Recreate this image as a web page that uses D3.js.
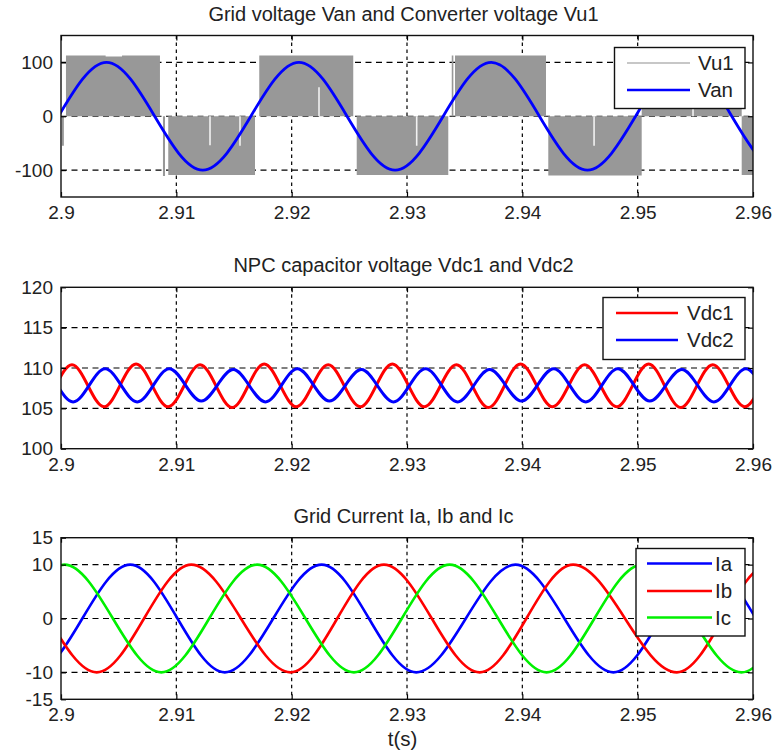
<!DOCTYPE html>
<html><head><meta charset="utf-8">
<script src="https://cdn.jsdelivr.net/npm/d3@7"></script>
<style>
body{margin:0;background:#fff;}
svg{display:block;font-family:"Liberation Sans",Arial,sans-serif;}
</style></head><body>
<svg id="chart" width="778" height="753"></svg>
<script>
// ---------------- DATA ----------------
const xTicks = [2.9, 2.91, 2.92, 2.93, 2.94, 2.95, 2.96];
const xTickLabels = ["2.9", "2.91", "2.92", "2.93", "2.94", "2.95", "2.96"];
const titles = ["Grid voltage Van and Converter voltage Vu1", "NPC capacitor voltage Vdc1 and Vdc2", "Grid Current Ia, Ib and Ic"];
const xLabel = "t(s)";

// Panel 1: grid voltage Van (extrema, incl. one just outside each end)
const vanT = [2.88727, 2.89561, 2.90395, 2.91229, 2.92063, 2.92897, 2.93731, 2.94565, 2.95399, 2.96233, 2.97067];
const vanV = [100, -100, 100, -100, 100, -100, 100, -100, 100, -100, 100];
// Converter voltage Vu1: PWM envelope (step levels)
const vu1T = [2.9000, 2.90008, 2.90025, 2.90043, 2.90387, 2.90529, 2.90858, 2.90884, 2.90902, 2.90930, 2.91682, 2.91719, 2.92534, 2.92564, 2.93358, 2.93388, 2.93402, 2.93416, 2.94205, 2.94225, 2.95035, 2.95902, 2.9600];
const vu1V = [0, -55, 0, 113, 111, 113, 0, -111, 0, -109, 0, 113, 0, -109, 0, 113, 0, 113, 0, -110, 111, -109, -109];
// Vu1 short zero-level notches
const notchT = [2.91292, 2.91552, 2.92237, 2.93084, 2.94622, 2.95480];
const notchV = [-54, -55, 54, -55, -55, 54];
const p1YTicks = [-100, 0, 100];
const p1Legend = ["Vu1", "Van"];

// Panel 2: capacitor voltages (extrema)
const vdc1T = [2.89539, 2.89817, 2.90095, 2.90373, 2.90651, 2.90929, 2.91206, 2.91484, 2.91762, 2.92040, 2.92317, 2.92595, 2.92873, 2.93151, 2.93429, 2.93706, 2.93984, 2.94262, 2.94540, 2.94818, 2.95095, 2.95373, 2.95651, 2.95929, 2.96206, 2.96484];
const vdc1V = [110.4, 105.3, 110.4, 105.2, 110.5, 105.2, 110.4, 105.1, 110.5, 105.2, 110.4, 105.2, 110.5, 105.2, 110.4, 105.1, 110.5, 105.2, 110.4, 105.2, 110.5, 105.1, 110.4, 105.2, 110.4, 105.2];
const vdc2T = [2.89549, 2.89827, 2.90105, 2.90383, 2.90661, 2.90939, 2.91216, 2.91494, 2.91772, 2.92050, 2.92327, 2.92605, 2.92883, 2.93161, 2.93439, 2.93716, 2.93994, 2.94272, 2.94550, 2.94828, 2.95105, 2.95383, 2.95661, 2.95939, 2.96216, 2.96494];
const vdc2V = [105.8, 109.9, 105.8, 109.9, 105.8, 109.9, 105.9, 109.8, 105.8, 109.9, 105.9, 109.8, 105.8, 109.9, 105.8, 109.8, 105.9, 109.9, 105.8, 109.9, 105.9, 109.8, 105.8, 109.9, 105.8, 109.9];
const p2YTicks = [100, 105, 110, 115, 120];
const p2Legend = ["Vdc1", "Vdc2"];

// Panel 3: grid currents (extrema)
const iaT = [2.8894, 2.8977, 2.9060, 2.9142, 2.9226, 2.9308, 2.9394, 2.9479, 2.9561, 2.9644, 2.9727];
const iaV = [10, -10, 10, -10, 10, -10, 10, -10, 10, -10, 10];
const ibT = [2.8864, 2.8947, 2.9031, 2.9113, 2.9199, 2.9280, 2.9363, 2.9444, 2.9534, 2.9614, 2.9697];
const ibV = [-10, 10, -10, 10, -10, 10, -10, 10, -10, 10, -10];
const icT = [2.8837, 2.8920, 2.9003, 2.9087, 2.9170, 2.9254, 2.9337, 2.9421, 2.9504, 2.9590, 2.9673, 2.9756];
const icV = [10, -10, 10, -10, 10, -10, 10, -10, 10, -10, 10, -10];
const p3YTicks = [-15, -10, 0, 10, 15];
const p3Legend = ["Ia", "Ib", "Ic"];

// ---------------- DRAWING ----------------
const zip = (T, V) => T.map((t, i) => ({t: t, v: V[i]}));
const svg = d3.select("#chart");
svg.append("rect").attr("width", 778).attr("height", 753).attr("fill", "#fff");
const plotL = 61, plotR = 753;
const x = d3.scaleLinear().domain([2.9, 2.96]).range([plotL, plotR]);
const textCol = "#222";

const panels = [
  {top: 35.5, h: 161.5, yDom: [-150, 150], yTicks: p1YTicks, yGrid: [-100, 0, 100], title: titles[0], titleY: 20.5,
   series: [
     {type: "area", data: zip(vu1T, vu1V), color: "#989898"},
     {type: "notch", data: zip(notchT, notchV), color: "#f2f2f2"},
     {type: "line", data: zip(vanT, vanV), color: "#0000ff", w: 2.8}
   ],
   legend: {x: 614.5, y: 47.5, w: 130.5, h: 61, rowY: [63, 90], lx1: 627, lx2: 690, tx: 698,
     labels: p1Legend, colors: ["#b4b4b4", "#0000ff"], widths: [1.5, 2.6]}},
  {top: 287.3, h: 161.4, yDom: [100, 120], yTicks: p2YTicks, yGrid: [105, 110, 115], title: titles[1], titleY: 271.5,
   series: [
     {type: "line", data: zip(vdc1T, vdc1V), color: "#ff0000", w: 3},
     {type: "line", data: zip(vdc2T, vdc2V), color: "#0000ff", w: 3}
   ],
   legend: {x: 603, y: 297.5, w: 142, h: 62, rowY: [313, 340], lx1: 616, lx2: 678, tx: 687,
     labels: p2Legend, colors: ["#ff0000", "#0000ff"], widths: [2.6, 2.6]}},
  {top: 537.7, h: 161.6, yDom: [-15, 15], yTicks: p3YTicks, yGrid: [-10, 0, 10], title: titles[2], titleY: 522.5,
   series: [
     {type: "line", data: zip(iaT, iaV), color: "#0000ff", w: 2.6},
     {type: "line", data: zip(ibT, ibV), color: "#ff0000", w: 2.6},
     {type: "line", data: zip(icT, icV), color: "#00f000", w: 2.6}
   ],
   legend: {x: 636, y: 548.5, w: 109, h: 87.5, rowY: [563.5, 591, 617.5], lx1: 647, lx2: 712, tx: 715,
     labels: p3Legend, colors: ["#0000ff", "#ff0000", "#00f000"], widths: [2.6, 2.6, 2.6]}}
];

panels.forEach((p, pi) => {
  const y = d3.scaleLinear().domain(p.yDom).range([p.top + p.h, p.top]);
  const g = svg.append("g");
  const bottom = p.top + p.h;

  // grid
  const grid = g.append("g").attr("stroke", "#000").attr("stroke-width", 1.2);
  grid.selectAll("line.v").data(xTicks.slice(1, -1)).join("line").attr("class", "v")
    .attr("x1", d => x(d)).attr("x2", d => x(d)).attr("y1", p.top).attr("y2", bottom)
    .attr("stroke-dasharray", "3.5,3.5");
  grid.selectAll("line.h").data(p.yGrid).join("line").attr("class", "h")
    .attr("x1", plotL).attr("x2", plotR).attr("y1", d => y(d)).attr("y2", d => y(d))
    .attr("stroke-dasharray", "6,4.5");

  // clip
  const cid = "clip" + pi;
  svg.append("clipPath").attr("id", cid).append("rect")
    .attr("x", plotL).attr("y", p.top).attr("width", plotR - plotL).attr("height", p.h);
  const dg = g.append("g").attr("clip-path", "url(#" + cid + ")");

  p.series.forEach(s => {
    if (s.type === "area") {
      const area = d3.area().curve(d3.curveStepAfter)
        .x(d => x(d.t)).y0(y(0)).y1(d => y(d.v));
      dg.append("path").datum(s.data).attr("d", area).attr("fill", s.color);
    } else if (s.type === "notch") {
      dg.selectAll(null).data(s.data).join("line")
        .attr("x1", d => x(d.t)).attr("x2", d => x(d.t))
        .attr("y1", y(0)).attr("y2", d => y(d.v))
        .attr("stroke", s.color).attr("stroke-width", 1.6);
    } else {
      const line = d3.line().curve(d3.curveMonotoneX).x(d => x(d.t)).y(d => y(d.v));
      dg.append("path").datum(s.data).attr("d", line).attr("fill", "none")
        .attr("stroke", s.color).attr("stroke-width", s.w).attr("stroke-linejoin", "round");
    }
  });

  // axes
  const ax = g.append("g").attr("transform", `translate(0,${bottom})`)
    .call(d3.axisBottom(x).tickValues(xTicks).tickFormat((d, i) => xTickLabels[i])
      .tickSizeInner(-5).tickSizeOuter(0).tickPadding(8.5));
  const axT = g.append("g").attr("transform", `translate(0,${p.top})`)
    .call(d3.axisTop(x).tickValues(xTicks).tickFormat("").tickSizeInner(-5).tickSizeOuter(0));
  const ay = g.append("g").attr("transform", `translate(${plotL},0)`)
    .call(d3.axisLeft(y).tickValues(p.yTicks).tickFormat(d => String(d))
      .tickSizeInner(-5).tickSizeOuter(0).tickPadding(8));
  const ayR = g.append("g").attr("transform", `translate(${plotR},0)`)
    .call(d3.axisRight(y).tickValues(p.yTicks).tickFormat("").tickSizeInner(-5).tickSizeOuter(0));
  [ax, axT, ay, ayR].forEach(a => {
    a.select(".domain").remove();
    a.selectAll("line").attr("stroke", "#000").attr("stroke-width", 1.2);
    a.selectAll("text").attr("font-size", 19).attr("fill", textCol)
      .attr("font-family", "'Liberation Sans', Arial, sans-serif");
  });

  // frame
  g.append("rect").attr("x", plotL).attr("y", p.top).attr("width", plotR - plotL).attr("height", p.h)
    .attr("fill", "none").attr("stroke", "#111").attr("stroke-width", 1.4);

  // title
  g.append("text").attr("x", 403.5).attr("y", p.titleY).attr("text-anchor", "middle")
    .attr("font-size", 20).attr("fill", textCol).text(p.title);

  // legend
  const L = p.legend;
  const lg = g.append("g");
  lg.append("rect").attr("x", L.x).attr("y", L.y).attr("width", L.w).attr("height", L.h)
    .attr("fill", "#fff").attr("stroke", "#111").attr("stroke-width", 1.4);
  L.labels.forEach((lab, i) => {
    lg.append("line").attr("x1", L.lx1).attr("x2", L.lx2).attr("y1", L.rowY[i]).attr("y2", L.rowY[i])
      .attr("stroke", L.colors[i]).attr("stroke-width", L.widths[i]);
    lg.append("text").attr("x", L.tx).attr("y", L.rowY[i]).attr("dy", "0.36em")
      .attr("font-size", 20.5).attr("fill", textCol).text(lab);
  });
});

svg.append("text").attr("x", 402.5).attr("y", 746).attr("text-anchor", "middle")
  .attr("font-size", 20.5).attr("fill", textCol).text(xLabel);
</script>
</body></html>
